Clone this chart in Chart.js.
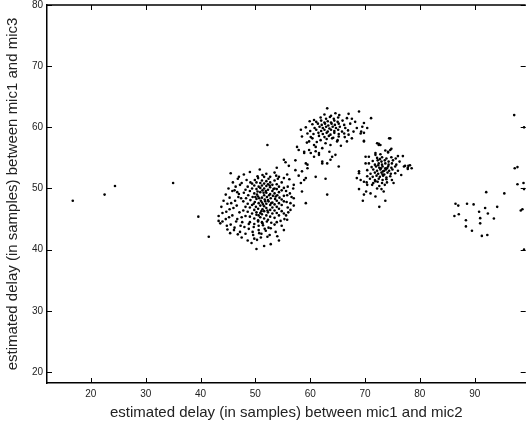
<!DOCTYPE html>
<html>
<head>
<meta charset="utf-8">
<script src="https://cdn.jsdelivr.net/npm/chart.js@4"></script>
<style>
  html, body { margin: 0; padding: 0; background: #fff; }
  #wrap { width: 527px; height: 425px; }
</style>
</head>
<body>
<div id="wrap"><canvas id="scatter"></canvas></div>
<script>
const xTicks = [20, 30, 40, 50, 60, 70, 80, 90];
const yTicks = [20, 30, 40, 50, 60, 70, 80];
const xLabel = "estimated delay (in samples) between mic1 and mic2";
const yLabel = "estimated delay (in samples) between mic1 and mic3";

// lone points on the far left
const strayPoints = [
  [16.7,48.0],[22.5,49.0],[24.4,50.4],[35.0,50.9],[39.6,45.4],[41.5,42.1],[43.3,44.7]
];

// dense middle of the big cluster
const mainCore = [
  [47.8,46.4],[47.8,47.9],[47.9,49.3],
  [48.2,45.5],[48.2,47.0],[48.3,48.4],[48.2,49.8],
  [48.6,46.2],[48.6,47.5],[48.7,48.9],[48.6,50.3],
  [49.0,45.4],[49.0,46.9],[49.1,48.1],[49.0,49.6],[49.1,51.0],
  [49.4,45.9],[49.4,47.3],[49.5,48.6],[49.4,50.0],[49.4,50.8],
  [49.8,45.1],[49.8,46.5],[49.9,47.8],[49.8,49.2],[49.8,50.5],[49.9,51.4],
  [50.2,45.7],[50.2,46.1],[50.1,47.0],[50.2,48.3],[50.3,49.0],[50.2,49.9],[50.2,51.0],
  [50.5,44.8],[50.5,46.7],[50.6,47.6],[50.5,48.7],[50.6,50.3],[50.5,51.7],
  [50.9,45.3],[50.9,46.0],[50.9,47.2],[51.0,48.0],[50.9,49.4],[50.9,50.1],[50.9,50.9],
  [51.2,44.5],[51.2,45.8],[51.3,46.6],[51.2,47.7],[51.2,48.5],[51.3,49.7],[51.2,50.5],[51.2,51.3],
  [51.6,45.1],[51.6,46.3],[51.6,47.1],[51.7,48.2],[51.6,48.9],[51.6,50.0],[51.6,50.8],[51.6,51.9],
  [52.0,45.6],[52.0,46.8],[52.0,47.5],[52.1,48.6],[52.0,49.3],[52.0,50.4],[52.0,51.2],
  [52.3,44.9],[52.3,46.1],[52.4,47.9],[52.3,48.1],[52.3,49.8],[52.3,50.7],[52.4,51.6],
  [52.7,45.4],[52.7,46.5],[52.7,47.3],[52.8,48.4],[52.7,49.1],[52.7,50.2],[52.7,51.0],
  [53.1,45.9],[53.1,46.9],[53.1,47.7],[53.2,48.8],[53.1,49.6],[53.1,50.6],
  [53.5,45.2],[53.5,46.4],[53.5,47.4],[53.6,48.3],[53.5,49.2],[53.5,50.0],[53.5,51.3],
  [53.9,46.0],[53.9,47.0],[53.9,48.0],[54.0,48.9],[53.9,49.9],[53.9,50.7],
  [54.3,45.6],[54.3,46.7],[54.3,47.6],[54.4,48.5],[54.3,49.4],[54.3,50.3],
  [54.8,46.3],[54.8,47.3],[54.8,48.2],[54.8,49.7],[54.8,51.0],
  [55.2,45.9],[55.2,47.9],[55.2,48.8],[55.2,50.1],
  [50.7,48.4],[51.4,47.4],[51.9,49.6],[52.5,48.9],[50.4,49.5],[51.1,46.3],[52.9,47.6],[53.3,49.9],
  [50.0,48.6],[51.8,47.9],[52.2,46.4],[49.7,47.5],[53.7,48.7],[51.5,49.3],[50.6,45.6],[52.6,50.5]
];

// sparser edge of the big cluster
const mainEdge = [
  [45.5,52.5],[47.9,52.3],[49.0,52.7],[52.0,52.4],[53.5,52.6],[55.8,52.3],[47.0,51.9],[51.3,52.2],
  [53.8,52.1],[54.3,51.9],[55.2,51.7],[57.9,52.1],[46.8,51.6],[48.4,51.4],[50.4,52.0],[52.7,51.9],
  [54.1,51.6],[56.2,51.5],[58.3,50.9],[50.8,53.1],[53.9,53.4],
  [45.9,51.0],[47.5,50.9],[46.4,50.3],[47.2,50.6],[45.1,50.0],[46.2,49.7],[47.0,49.1],[45.8,49.6],
  [46.7,49.4],[44.6,49.0],[46.9,48.6],[45.3,48.5],[46.3,48.0],[47.4,48.4],[44.2,48.0],[45.6,47.6],
  [46.6,47.2],[44.9,47.5],[46.0,46.8],[47.1,46.1],[43.8,47.0],[45.3,46.6],[44.7,46.2],[45.8,45.6],
  [46.7,45.0],[47.5,45.3],[44.0,46.0],[45.2,45.3],[43.3,45.5],[44.6,45.0],[47.6,44.5],[44.0,44.6],
  [45.5,44.1],[46.5,44.6],[43.6,44.3],[44.8,43.9],[46.2,43.6],[47.3,43.9],[44.9,43.3],[45.4,42.7],
  [46.1,43.2],[47.2,42.9],[46.8,42.5],[48.2,42.6],[48.0,43.7],[48.8,44.2],
  [55.9,50.3],[57.0,50.6],[56.9,50.0],[55.6,49.6],[56.3,49.2],[58.5,49.5],[55.8,48.9],[57.0,48.4],
  [56.6,48.6],[55.7,47.8],[56.4,47.6],[57.0,47.2],[55.9,46.9],[56.4,46.5],[55.6,45.6],[56.0,46.1],
  [55.3,45.0],[55.8,44.9],[54.6,44.7],[54.8,43.9],[59.2,47.6],
  [49.0,44.5],[49.8,44.2],[50.5,44.6],[51.3,44.3],[52.1,44.6],[52.9,44.4],[53.9,44.5],[49.7,43.7],
  [50.6,43.9],[51.4,44.0],[52.4,43.6],[53.5,44.1],[48.8,43.4],[50.6,43.2],[51.7,43.4],[52.8,43.5],
  [49.5,42.9],[50.7,42.7],[51.9,43.1],[53.7,42.9],[49.6,42.4],[51.1,42.6],[52.6,42.4],[47.5,42.0],
  [49.8,41.8],[51.0,42.0],[52.2,42.1],[54.0,42.2],[48.6,41.5],[50.3,41.6],[54.3,41.5],[49.3,41.1],
  [52.8,40.9],[51.6,40.6],[50.2,40.1],[55.2,43.2],
  [55.2,54.7],[55.5,54.3],[56.1,53.7],[52.2,57.1],[57.3,53.0],[58.5,52.8],[61.0,51.9],[58.9,51.4],[63.1,49.0]
];

// points between the two left clusters
const bridgePoints = [
  [59.8,57.7],[61.0,56.8],[57.6,56.8],[57.9,56.3],[58.9,55.8],[60.1,55.8],[61.6,55.5],[62.2,54.1],
  [63.1,54.1],[57.3,54.6],[59.5,53.9],[59.5,53.3],[59.2,51.7],[62.8,51.6]
];

// upper cluster around (63.5, 60)
const upperCluster = [
  [63.1,63.1],[64.6,62.3],[68.9,62.6],[62.6,62.1],[63.8,61.9],[65.3,62.0],[67.0,62.2],
  [60.7,61.2],[61.9,61.6],[62.9,61.4],[63.6,61.7],[64.3,61.4],[65.1,61.6],[66.7,61.5],[67.6,61.4],[71.1,61.5],
  [59.9,61.0],[61.1,60.9],[62.0,61.1],[62.6,60.8],[63.2,61.0],[63.8,60.8],[64.4,61.1],[65.0,60.9],[65.9,61.1],[68.2,60.9],[69.8,60.7],
  [60.4,60.5],[61.4,60.6],[62.1,60.4],[62.7,60.6],[63.3,60.3],[63.9,60.6],[64.5,60.4],[65.2,60.6],[66.2,60.4],[67.3,60.6],[69.5,60.1],
  [59.2,60.0],[60.8,59.9],[61.7,60.1],[62.3,59.9],[62.9,60.1],[63.5,59.8],[64.1,60.1],[64.7,59.9],[65.4,60.1],[66.4,59.9],[68.5,59.9],[70.4,59.9],
  [58.3,59.6],[60.0,59.4],[61.1,59.6],[62.0,59.4],[62.6,59.6],[63.2,59.3],[63.8,59.6],[64.4,59.4],[65.1,59.6],[65.8,59.3],[66.9,59.5],[67.9,59.3],
  [59.5,59.0],[60.6,58.9],[61.5,59.1],[62.3,58.9],[63.0,59.1],[63.7,58.8],[64.4,59.1],[65.2,58.9],[66.2,59.0],[69.2,59.0],
  [58.5,58.5],[60.1,58.4],[61.6,58.6],[62.6,58.4],[63.4,58.6],[64.2,58.3],[65.2,58.5],[66.3,58.4],[67.0,58.8],
  [60.4,58.2],[61.9,57.9],[63.0,58.1],[64.0,58.2],[65.0,57.9],[67.6,58.2],
  [59.4,57.5],[61.2,57.6],[62.8,57.4],[64.9,57.7],[66.7,57.7],[69.8,57.8],
  [60.7,57.1],[63.7,57.1],[65.6,57.0],[59.8,56.3],[62.2,56.6],[58.9,56.0],[61.0,56.1],[63.5,56.0],
  [61.6,55.8],[64.6,55.5],[60.7,55.2],[64.0,55.2],[62.2,54.4],[63.7,54.7],[59.2,54.1],[65.2,53.6],
  [69.3,59.3],[69.8,59.1],[72.2,57.4],[72.5,57.1],[74.6,58.2],[74.6,56.3],[74.2,56.0]
];

// right cluster around (73, 53)
const rightCluster = [
  [74.4,58.2],[72.5,57.3],[72.8,57.1],[69.8,57.7],[74.8,56.5],[73.7,56.2],[74.2,55.9],
  [71.9,55.5],[72.8,55.6],[76.0,55.3],[70.1,55.2],[70.7,55.2],[71.9,55.8],
  [72.2,55.0],[73.1,55.1],[73.9,54.9],[74.8,55.1],[75.6,54.9],[76.9,55.3],
  [71.4,54.5],[72.3,54.6],[73.0,54.4],[73.6,54.6],[74.3,54.4],[75.1,54.6],[76.3,54.4],
  [70.7,54.1],[71.8,53.9],[72.5,54.1],[73.1,53.9],[73.7,54.1],[74.3,53.9],[74.9,54.1],[75.7,53.9],[70.1,54.1],
  [71.2,53.5],[72.0,53.6],[72.6,53.4],[73.2,53.6],[73.7,53.3],[74.2,53.6],[74.8,53.4],[75.5,53.6],[77.3,53.7],
  [70.4,53.0],[71.5,53.1],[72.2,52.9],[72.8,53.1],[73.3,52.8],[73.8,53.1],[74.4,52.9],[75.0,53.1],[76.0,52.9],[77.8,53.2],
  [68.9,52.5],[71.0,52.4],[71.8,52.6],[72.4,52.4],[73.0,52.6],[73.5,52.3],[74.1,52.6],[74.7,52.4],[75.5,52.5],
  [70.4,52.0],[71.4,51.9],[72.1,52.1],[72.7,51.9],[73.3,52.1],[73.9,51.8],[74.6,52.0],[76.6,52.2],
  [69.2,51.4],[70.9,51.6],[71.8,51.4],[72.5,51.6],[73.2,51.4],[73.9,51.5],[74.9,51.4],
  [70.3,51.0],[71.5,50.9],[72.3,51.1],[73.1,50.9],[74.0,51.0],[75.2,50.9],[69.8,51.1],[71.9,51.2],[68.5,51.7],[68.9,52.8],
  [71.3,50.6],[72.6,50.4],[73.6,50.6],[70.4,50.6],[68.9,49.9],[72.2,50.0],[73.0,49.9],
  [70.2,49.5],[73.4,49.5],[69.8,49.0],[71.0,49.2],[71.9,48.7],[69.6,48.0],[73.7,48.0],[72.6,47.0],
  [77.1,53.6],[77.9,53.7],[78.2,53.8],[77.8,53.4],[78.5,53.3],
  [72.9,53.3],[73.5,52.9],[72.4,53.8],[74.0,53.3],[73.2,52.3],[72.7,54.8]
];

// sparse group near (90, 45) and the right edge
const farCluster = [
  [97.2,62.0],[99.0,60.0],[97.3,53.3],[97.8,53.5],
  [97.8,50.7],[98.9,50.9],[99.0,49.9],[92.1,49.4],[95.4,49.2],
  [86.5,47.5],[87.0,47.2],[88.6,47.5],[89.8,47.4],[91.9,46.8],[94.1,47.0],
  [90.8,46.2],[92.4,45.9],[98.4,46.4],[98.7,46.6],[86.3,45.5],[87.1,45.8],
  [91.0,45.15],[93.5,45.1],[88.4,44.8],[91.0,44.3],[88.4,43.8],[89.5,43.1],
  [91.3,42.25],[92.3,42.4],[99.0,40.0]
];

const allPoints = [].concat(strayPoints, mainCore, mainEdge, bridgePoints, upperCluster, rightCluster, farCluster)
  .map(([x, y]) => ({ x, y }));

const textColor = "#222";

// MATLAB-ish box: inward ticks on all four sides plus the top rule
const boxTicks = {
  id: "boxTicks",
  afterDraw(chart) {
    const { ctx, chartArea: a, scales: { x, y } } = chart;
    const len = 5;
    ctx.save();
    ctx.strokeStyle = "#000";
    ctx.lineWidth = 1;
    ctx.beginPath();
    xTicks.forEach(v => {
      const px = Math.round(x.getPixelForValue(v)) + 0.5;
      ctx.moveTo(px, a.bottom); ctx.lineTo(px, a.bottom - len);
      ctx.moveTo(px, a.top); ctx.lineTo(px, a.top + len);
    });
    yTicks.forEach(v => {
      const py = Math.round(y.getPixelForValue(v)) + 0.5;
      ctx.moveTo(a.left, py); ctx.lineTo(a.left + len, py);
      ctx.moveTo(a.right, py); ctx.lineTo(a.right - len, py);
    });
    ctx.stroke();
    ctx.lineWidth = 1.5;
    ctx.beginPath();
    ctx.moveTo(a.left, a.top); ctx.lineTo(a.right, a.top);
    ctx.stroke();
    ctx.restore();
  }
};

new Chart(document.getElementById("scatter"), {
  type: "scatter",
  data: {
    datasets: [{
      data: allPoints,
      pointRadius: 1.3,
      pointHoverRadius: 1.3,
      pointBackgroundColor: "#000",
      pointBorderWidth: 0,
    }]
  },
  options: {
    responsive: true,
    maintainAspectRatio: false,
    animation: false,
    layout: { padding: { top: 5, right: 0, left: 0, bottom: 0 } },
    plugins: { legend: { display: false }, tooltip: { enabled: false } },
    scales: {
      x: {
        type: "linear",
        min: 12,
        max: 99.3,
        afterBuildTicks: s => { s.ticks = xTicks.map(v => ({ value: v })); },
        afterFit: s => { s.height = 42; s.paddingLeft = 0; s.paddingRight = 0; },
        grid: { display: false, drawTicks: false },
        border: { display: true, color: "#000", width: 1.5 },
        ticks: { padding: 5, color: textColor, font: { family: "Liberation Sans", size: 10 }, maxRotation: 0 },
        title: {
          display: true, text: xLabel, color: textColor,
          font: { family: "Liberation Sans", size: 15 },
          padding: { top: 0, bottom: 3 }
        }
      },
      y: {
        type: "linear",
        min: 18.2,
        max: 80,
        afterBuildTicks: s => { s.ticks = yTicks.map(v => ({ value: v })); },
        afterFit: s => { s.width = 47; s.paddingTop = 0; s.paddingBottom = 0; },
        grid: { display: false, drawTicks: false },
        border: { display: true, color: "#000", width: 1.5 },
        ticks: { padding: 4, color: textColor, font: { family: "Liberation Sans", size: 10 } },
        title: {
          display: true, text: yLabel, color: textColor,
          font: { family: "Liberation Sans", size: 15 },
          padding: { top: 4, bottom: 0 }
        }
      }
    }
  },
  plugins: [boxTicks]
});
</script>
</body>
</html>
